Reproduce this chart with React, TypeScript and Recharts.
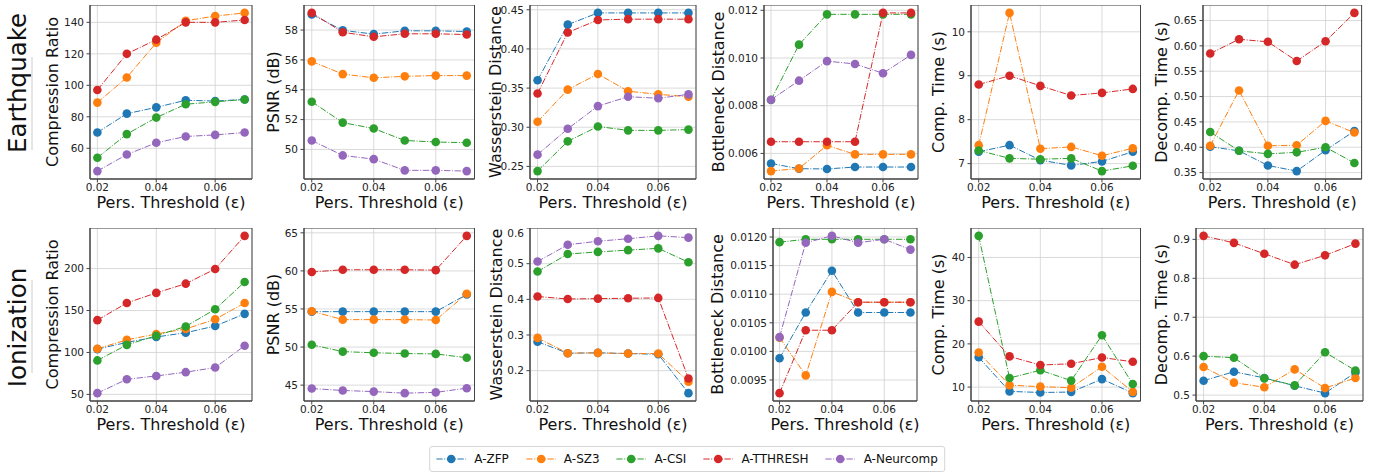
import React from 'react';
import { LineChart, Line, XAxis, YAxis, CartesianGrid, ReferenceArea } from 'recharts';

const thresholds = [0.02, 0.03, 0.04, 0.05, 0.06, 0.07];
const xTicks = [0.02, 0.04, 0.06];
const methods = ['A-ZFP', 'A-SZ3', 'A-CSI', 'A-TTHRESH', 'A-Neurcomp'];
const methodColors = ['#1f77b4', '#ff7f0e', '#2ca02c', '#d62728', '#9467bd'];
const datasets = ['Earthquake', 'Ionization'];
const metricLabels = ['Compression Ratio', 'PSNR (dB)', 'Wasserstein Distance', 'Bottleneck Distance', 'Comp. Time (s)', 'Decomp. Time (s)'];
const xLabel = 'Pers. Threshold (ε)';

// Earthquake — each row: [A-ZFP, A-SZ3, A-CSI, A-TTHRESH, A-Neurcomp]
const eqCompressionRatio = [
  [70, 82, 86, 90.5, 90, 91],
  [89, 105, 127, 141, 144, 146],
  [54, 69, 79.5, 88, 89.5, 91],
  [97, 120, 129, 140, 140, 141.5],
  [45.5, 56, 63.5, 67.5, 68.5, 70],
];
const eqPSNR = [
  [59.05, 57.98, 57.73, 57.95, 57.95, 57.9],
  [55.9, 55.05, 54.8, 54.9, 54.95, 54.95],
  [53.2, 51.8, 51.4, 50.6, 50.5, 50.45],
  [59.15, 57.85, 57.55, 57.75, 57.75, 57.7],
  [50.6, 49.6, 49.35, 48.6, 48.6, 48.55],
];
const eqWasserstein = [
  [0.36, 0.431, 0.446, 0.446, 0.446, 0.446],
  [0.307, 0.348, 0.368, 0.346, 0.342, 0.339],
  [0.244, 0.282, 0.301, 0.296, 0.296, 0.297],
  [0.343, 0.421, 0.437, 0.438, 0.438, 0.438],
  [0.265, 0.298, 0.327, 0.339, 0.337, 0.342],
];
const eqBottleneck = [
  [0.00558, 0.00536, 0.00535, 0.00543, 0.00543, 0.00543],
  [0.00526, 0.00537, 0.00634, 0.00596, 0.00596, 0.00596],
  [0.00824, 0.01056, 0.01183, 0.01183, 0.01183, 0.01183],
  [0.00649, 0.00649, 0.00649, 0.00649, 0.01189, 0.01189],
  [0.00825, 0.00905, 0.00987, 0.00975, 0.00936, 0.01013],
];
const eqCompTime = [
  [7.27, 7.42, 7.08, 6.96, 7.05, 7.27],
  [7.42, 10.43, 7.34, 7.38, 7.18, 7.35],
  [7.3, 7.12, 7.1, 7.12, 6.83, 6.95],
  [8.8, 9.0, 8.77, 8.55, 8.61, 8.7],
  null,
];
const eqDecompTime = [
  [0.401, 0.393, 0.364, 0.353, 0.394, 0.432],
  [0.403, 0.512, 0.403, 0.404, 0.452, 0.429],
  [0.43, 0.393, 0.387, 0.39, 0.4, 0.369],
  [0.585, 0.613, 0.608, 0.57, 0.609, 0.665],
  null,
];

// Ionization
const ioCompressionRatio = [
  [104, 112, 118.5, 123.5, 131.5, 146],
  [104.5, 115, 122, 128, 139.5, 159],
  [90.5, 109, 120, 131, 151.5, 184],
  [138.5, 159, 171, 182, 199.5, 239],
  [51.5, 68, 72, 76.5, 82, 108],
];
const ioPSNR = [
  [54.65, 54.65, 54.65, 54.65, 54.65, 56.9],
  [54.7, 53.6, 53.6, 53.6, 53.55, 57.0],
  [50.3, 49.4, 49.25, 49.15, 49.1, 48.6],
  [59.85, 60.15, 60.15, 60.15, 60.1, 64.6],
  [44.55, 44.3, 44.15, 43.95, 44.05, 44.6],
];
const ioWasserstein = [
  [0.281, 0.249, 0.25, 0.248, 0.246, 0.137],
  [0.292, 0.249, 0.25, 0.248, 0.248, 0.169],
  [0.478, 0.527, 0.533, 0.538, 0.543, 0.504],
  [0.408, 0.401, 0.402, 0.403, 0.404, 0.178],
  [0.506, 0.553, 0.563, 0.57, 0.578, 0.573],
];
const ioBottleneck = [
  [0.00988, 0.01068, 0.01141, 0.01068, 0.01068, 0.01068],
  [0.01024, 0.00958, 0.01104, 0.01086, 0.01086, 0.01086],
  [0.01191, 0.01196, 0.01196, 0.01196, 0.01196, 0.01196],
  [0.00927, 0.01037, 0.01037, 0.01086, 0.01086, 0.01086],
  [0.01025, 0.0119, 0.01202, 0.0119, 0.01196, 0.01178],
];
const ioCompTime = [
  [16.9, 9.0, 8.75, 8.85, 11.85, 8.6],
  [18, 10.45, 10.1, 9.85, 14.7, 8.9],
  [45, 12.1, 13.9, 11.5, 22, 10.7],
  [25.15, 17.1, 15.1, 15.4, 16.85, 15.85],
  null,
];
const ioDecompTime = [
  [0.537, 0.56, 0.544, 0.524, 0.505, 0.558],
  [0.572, 0.532, 0.52, 0.566, 0.518, 0.544],
  [0.6, 0.596, 0.543, 0.525, 0.61, 0.563],
  [0.909, 0.891, 0.863, 0.835, 0.859, 0.889],
  null,
];

// y tick labels
const eqTicks = [
  [60, 80, 100, 120, 140],
  [50, 52, 54, 56, 58],
  [0.25, 0.3, 0.35, 0.4, 0.45],
  [0.006, 0.008, 0.01, 0.012],
  [7, 8, 9, 10],
  [0.35, 0.4, 0.45, 0.5, 0.55, 0.6, 0.65],
];
const ioTicks = [
  [50, 100, 150, 200],
  [45, 50, 55, 60, 65],
  [0.2, 0.3, 0.4, 0.5, 0.6],
  [0.0095, 0.01, 0.0105, 0.011, 0.0115, 0.012],
  [10, 20, 30, 40],
  [0.5, 0.6, 0.7, 0.8, 0.9],
];
const eqDecimals = [0, 0, 2, 3, 0, 2];
const ioDecimals = [0, 0, 1, 4, 0, 1];

const rowValues = [
  [eqCompressionRatio, eqPSNR, eqWasserstein, eqBottleneck, eqCompTime, eqDecompTime],
  [ioCompressionRatio, ioPSNR, ioWasserstein, ioBottleneck, ioCompTime, ioDecompTime],
];
const rowTicks = [eqTicks, ioTicks];
const rowDecimals = [eqDecimals, ioDecimals];

// layout (plot-area geometry in page pixels)
const rowTop = [5, 228];
const rowHeight = [174, 173];
const panelLeft = [
  [89.6, 304, 529.7, 763.7, 970.6, 1202.8],
  [89.6, 304, 529.7, 772.8, 970.6, 1195.7],
];
const panelWidth = [
  [162, 170.5, 166, 154, 169.5, 158.6],
  [162, 170.5, 166, 144, 169.5, 167],
];
const ylabelGap = [
  [38, 30.7, 34.7, 45.4, 32.3, 41],
  [38, 30.7, 34, 55.5, 32.3, 34.7],
];

const FONT = '"DejaVu Sans", sans-serif';
const DASH = '6.4 1.6 1 1.6';
const YW = 80;
const XH = 40;
const RM = 30;
const X_DOMAIN: [number, number] = [0.0175, 0.0725];

function Panel({ r, c }: { r: number; c: number }) {
  const values = rowValues[r][c];
  const ticks = rowTicks[r][c];
  const dec = rowDecimals[r][c];
  const left = panelLeft[r][c];
  const w = panelWidth[r][c];
  const h = rowHeight[r];
  const top = rowTop[r];
  const gap = ylabelGap[r][c];

  const all: number[] = [];
  values.forEach((s) => s && s.forEach((v) => all.push(v)));
  const mn = Math.min(...all);
  const mx = Math.max(...all);
  const pad = (mx - mn) * 0.05;
  const domain: [number, number] = [mn - pad, mx + pad];

  const data = thresholds.map((x, i) => {
    const row: Record<string, number> = { x };
    values.forEach((s, k) => {
      if (s) row[methods[k]] = s[i];
    });
    return row;
  });

  const W = w + YW + RM;
  const H = h + XH;

  return (
    <div style={{ position: 'absolute', left: left - YW, top, width: W, height: H }}>
      <LineChart width={W} height={H} data={data} margin={{ top: 0, right: RM, bottom: 0, left: 0 }}>
        <CartesianGrid stroke="#d0d0d0" strokeWidth={0.8} />
        <XAxis
          type="number"
          dataKey="x"
          domain={X_DOMAIN}
          ticks={xTicks}
          allowDataOverflow
          height={XH}
          tickSize={3.5}
          tickMargin={1.5}
          stroke="#444"
          tick={{ fontSize: 10.5, fill: '#222', fontFamily: FONT }}
          tickFormatter={(v: number) => v.toFixed(2)}
          label={{
            content: () => (
              <text
                x={YW + w / 2}
                y={h + 23.5}
                textAnchor="middle"
                dominantBaseline="central"
                fontSize={16}
                fontFamily={FONT}
                fill="#111"
              >
                {xLabel}
              </text>
            ),
          }}
        />
        <YAxis
          type="number"
          domain={domain}
          ticks={ticks}
          allowDataOverflow
          width={YW}
          tickSize={3.5}
          tickMargin={2.5}
          stroke="#444"
          tick={{ fontSize: 10.5, fill: '#222', fontFamily: FONT }}
          tickFormatter={(v: number) => v.toFixed(dec)}
          label={{
            content: () => (
              <text
                x={YW - gap}
                y={h / 2}
                textAnchor="middle"
                dominantBaseline="central"
                fontSize={16}
                fontFamily={FONT}
                fill="#111"
                transform={`rotate(-90 ${YW - gap} ${h / 2})`}
              >
                {metricLabels[c]}
              </text>
            ),
          }}
        />
        <ReferenceArea
          x1={X_DOMAIN[0]}
          x2={X_DOMAIN[1]}
          y1={domain[0]}
          y2={domain[1]}
          fill="none"
          fillOpacity={0}
          stroke="#444"
          strokeWidth={1}
          ifOverflow="visible"
        />
        {values.map((s, k) =>
          s ? (
            <Line
              key={methods[k]}
              type="linear"
              dataKey={methods[k]}
              stroke={methodColors[k]}
              strokeWidth={1}
              strokeDasharray={DASH}
              dot={{ r: 4.3, fill: methodColors[k], stroke: methodColors[k], strokeWidth: 0 }}
              activeDot={false}
              isAnimationActive={false}
            />
          ) : null
        )}
      </LineChart>
    </div>
  );
}

function Legend() {
  return (
    <div
      style={{
        position: 'absolute',
        left: 687,
        transform: 'translateX(-50%)',
        top: 446,
        height: 26,
        boxSizing: 'border-box',
        border: '1px solid #d5d5d5',
        borderRadius: 3,
        background: '#fff',
        display: 'flex',
        alignItems: 'center',
        paddingLeft: 6,
        paddingRight: 6,
        fontFamily: FONT,
        fontSize: 12,
        color: '#111',
        whiteSpace: 'nowrap',
      }}
    >
      {methods.map((m, k) => (
        <div key={m} style={{ display: 'flex', alignItems: 'center', marginRight: k < methods.length - 1 ? 17 : 0 }}>
          <svg width={30} height={12} style={{ marginRight: 8 }}>
            <line x1={0} y1={6} x2={30} y2={6} stroke={methodColors[k]} strokeWidth={1} strokeDasharray={DASH} />
            <circle cx={15} cy={6} r={4.3} fill={methodColors[k]} />
          </svg>
          <span>{m}</span>
        </div>
      ))}
    </div>
  );
}

export default function App() {
  return (
    <div style={{ position: 'absolute', left: 0, top: 0, width: 1375, height: 474, background: '#fff', overflow: 'hidden' }}>
      <svg width={1375} height={474} style={{ position: 'absolute', left: 0, top: 0 }}>
        <text x={17} y={83} textAnchor="middle" dominantBaseline="central" fontSize={24.5} fontFamily={FONT} fill="#111" transform="rotate(-90 17 83)">
          {datasets[0]}
        </text>
        <line x1={32} y1={57} x2={32} y2={150} stroke="#cccccc" strokeWidth={1} />
        <text x={17} y={327.5} textAnchor="middle" dominantBaseline="central" fontSize={24.5} fontFamily={FONT} fill="#111" transform="rotate(-90 17 327.5)">
          {datasets[1]}
        </text>
        <line x1={32} y1={280} x2={32} y2={373} stroke="#cccccc" strokeWidth={1} />
      </svg>
      {[0, 1].map((r) => [0, 1, 2, 3, 4, 5].map((c) => <Panel key={`${r}-${c}`} r={r} c={c} />))}
      <Legend />
    </div>
  );
}
